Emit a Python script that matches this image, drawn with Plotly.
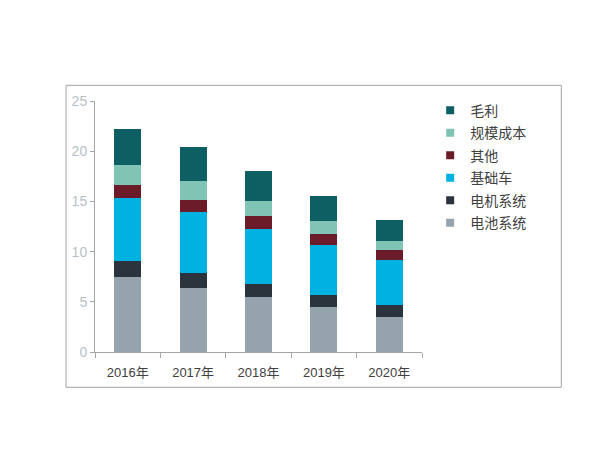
import plotly.graph_objects as go

years = ["2016年", "2017年", "2018年", "2019年", "2020年"]
battery = [7.5, 6.4, 5.45, 4.45, 3.45]      # 电池系统
motor = [1.6, 1.5, 1.35, 1.25, 1.2]          # 电机系统
base_car = [6.2, 6.0, 5.5, 5.0, 4.5]         # 基础车
other = [1.3, 1.2, 1.2, 1.1, 1.0]            # 其他
scale = [2.0, 1.9, 1.5, 1.2, 0.95]           # 规模成本
gross = [3.6, 3.4, 3.0, 2.5, 2.0]            # 毛利

series = [
    ("电池系统", battery, "#95a3ad"),
    ("电机系统", motor, "#2b333c"),
    ("基础车", base_car, "#00b2e1"),
    ("其他", other, "#6b1c28"),
    ("规模成本", scale, "#80c4b5"),
    ("毛利", gross, "#0d5f64"),
]

FONT = "Liberation Sans, Arial, Noto Sans CJK SC, sans-serif"

fig = go.Figure()
for name, vals, color in series:
    fig.add_trace(go.Bar(x=years, y=vals, name=name, marker=dict(color=color, line=dict(width=0)),
                         width=0.41, showlegend=False))
# legend markers (small squares), top series first
for name, vals, color in reversed(series):
    fig.add_trace(go.Scatter(x=[None], y=[None], mode="markers", name=name, legendgroup=name,
                             marker=dict(symbol="square", size=8, color=color)))

fig.update_layout(
    barmode="stack",
    width=611, height=450,
    margin=dict(l=95, r=188.5, t=100.7, b=98.3),
    paper_bgcolor="white", plot_bgcolor="white",
    font=dict(family=FONT),
    legend=dict(traceorder="grouped", x=1.025, xanchor="left", y=1.025, yanchor="top",
                font=dict(size=14, color="#404040"), bgcolor="rgba(0,0,0,0)",
                itemwidth=30, tracegroupgap=1.3),
    xaxis=dict(showline=True, linecolor="#a6a6a6", linewidth=1, ticks="outside",
               tickson="boundaries", ticklen=5, tickcolor="#a6a6a6",
               ticklabelstandoff=8,
               tickfont=dict(size=13, color="#404040"), showgrid=False),
    yaxis=dict(range=[0, 25], dtick=5, showline=True, linecolor="#a6a6a6", linewidth=1,
               ticks="outside", ticklen=4, tickcolor="#a6a6a6",
               tickfont=dict(size=14, color="#b7bfc6"), showgrid=False, zeroline=False),
    shapes=[dict(type="rect", xref="paper", yref="paper",
                 x0=-0.0885, x1=1.426, y0=-0.1406, y1=1.0625,
                 line=dict(color="#a0a0a0", width=1), fillcolor="rgba(0,0,0,0)", layer="below")],
)

fig.write_html("out.html")
